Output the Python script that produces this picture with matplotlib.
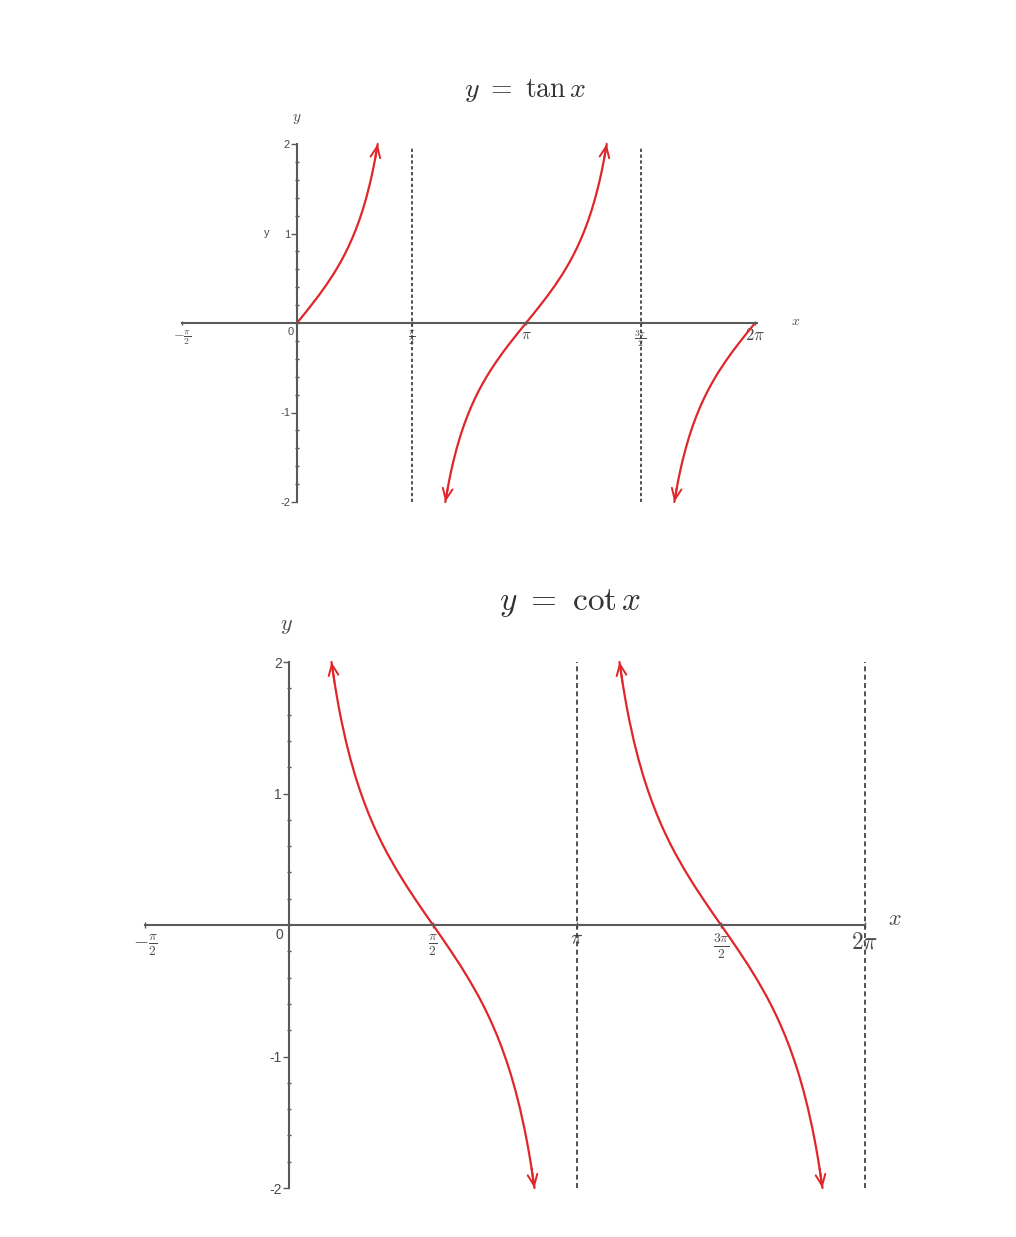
import numpy as np
import matplotlib
matplotlib.use("Agg")
from matplotlib import pyplot as plt

plt.rcParams['mathtext.fontset'] = 'cm'
plt.rcParams['font.family'] = ['Liberation Sans', 'DejaVu Sans']

W, H = 1016, 1237
red = '#e0262a'
gray = '#5a5a5a'
txt = '#4a4a4a'
pi = np.pi

# --- data (x in radians) ---
tan_x1 = [0.0, 0.1, 0.2, 0.3, 0.4, 0.5, 0.55, 0.6, 0.65, 0.7, 0.75, 0.8, 0.85, 0.9, 0.95,
          1.0, 1.025, 1.05, 1.075, 1.1071]
tan_y1 = [0.0, 0.100, 0.203, 0.309, 0.423, 0.546, 0.613, 0.684, 0.760, 0.842, 0.932, 1.030,
          1.138, 1.260, 1.398, 1.557, 1.646, 1.743, 1.849, 2.0]

tan_x2 = [2.0345, 2.0666, 2.0916, 2.1166, 2.1416, 2.1916, 2.2416, 2.2916, 2.3416, 2.3916,
          2.4416, 2.4916, 2.5416, 2.5916, 2.6416, 2.7416, 2.8416, 2.9416, 3.0416, 3.1416,
          3.2416, 3.3416, 3.4416, 3.5416, 3.6416, 3.6916, 3.7416, 3.7916, 3.8416, 3.8916,
          3.9416, 3.9916, 4.0416, 4.0916, 4.1416, 4.1666, 4.1916, 4.2166, 4.2487]
tan_y2 = [-2.0, -1.849, -1.743, -1.646, -1.557, -1.398, -1.260, -1.138, -1.030, -0.932,
          -0.842, -0.760, -0.684, -0.613, -0.546, -0.423, -0.309, -0.203, -0.100, 0.0,
          0.100, 0.203, 0.309, 0.423, 0.546, 0.613, 0.684, 0.760, 0.842, 0.932,
          1.030, 1.138, 1.260, 1.398, 1.557, 1.646, 1.743, 1.849, 2.0]

tan_x3 = [5.1761, 5.2082, 5.2332, 5.2582, 5.2832, 5.3332, 5.3832, 5.4332, 5.4832, 5.5332,
          5.5832, 5.6332, 5.6832, 5.7332, 5.7832, 5.8832, 5.9832, 6.0832, 6.1832, 6.2832]
tan_y3 = [-2.0, -1.849, -1.743, -1.646, -1.557, -1.398, -1.260, -1.138, -1.030, -0.932,
          -0.842, -0.760, -0.684, -0.613, -0.546, -0.423, -0.309, -0.203, -0.100, 0.0]

cot_x1 = [0.4637, 0.4958, 0.5208, 0.5458, 0.5708, 0.6208, 0.6708, 0.7208, 0.7708, 0.8208,
          0.8708, 0.9208, 0.9708, 1.0208, 1.0708, 1.1708, 1.2708, 1.3708, 1.4708, 1.5708,
          1.6708, 1.7708, 1.8708, 1.9708, 2.0708, 2.1208, 2.1708, 2.2208, 2.2708, 2.3208,
          2.3708, 2.4208, 2.4708, 2.5208, 2.5708, 2.5958, 2.6208, 2.6458, 2.6779]
cot_y1 = [2.0, 1.849, 1.743, 1.646, 1.557, 1.398, 1.260, 1.138, 1.030, 0.932,
          0.842, 0.760, 0.684, 0.613, 0.546, 0.423, 0.309, 0.203, 0.100, 0.0,
          -0.100, -0.203, -0.309, -0.423, -0.546, -0.613, -0.684, -0.760, -0.842, -0.932,
          -1.030, -1.138, -1.260, -1.398, -1.557, -1.646, -1.743, -1.849, -2.0]

cot_x2 = [3.6053, 3.6374, 3.6624, 3.6874, 3.7124, 3.7624, 3.8124, 3.8624, 3.9124, 3.9624,
          4.0124, 4.0624, 4.1124, 4.1624, 4.2124, 4.3124, 4.4124, 4.5124, 4.6124, 4.7124,
          4.8124, 4.9124, 5.0124, 5.1124, 5.2124, 5.2624, 5.3124, 5.3624, 5.4124, 5.4624,
          5.5124, 5.5624, 5.6124, 5.6624, 5.7124, 5.7374, 5.7624, 5.7874, 5.8195]
cot_y2 = cot_y1

tan_asym = [pi / 2, 3 * pi / 2]
cot_asym = [pi, 2 * pi]

xtick_pos = [-pi / 2, pi / 2, pi, 3 * pi / 2, 2 * pi]
xtick_lab = [r'$-\frac{\pi}{2}$', r'$\frac{\pi}{2}$', r'$\pi$', r'$\frac{3\pi}{2}$', r'$2\pi$']
ytick_pos = [-2, -1, 1, 2]
ytick_lab = ['-2', '-1', '1', '2']

fig = plt.figure(figsize=(W / 100, H / 100), dpi=100)


def make_axes(box, x0, sx, y0, sy):
    l, r, t, b = box
    ax = fig.add_axes([l / W, 1 - b / H, (r - l) / W, (b - t) / H])
    ax.set_xlim((l - x0) / sx, (r - x0) / sx)
    ax.set_ylim((y0 - b) / sy, (y0 - t) / sy)
    ax.patch.set_alpha(0)
    for s in ['top', 'right']:
        ax.spines[s].set_visible(False)
    ax.spines['left'].set_position(('data', 0))
    ax.spines['bottom'].set_position(('data', 0))
    ax.spines['left'].set_bounds(-2, 2)
    for s in ['left', 'bottom']:
        ax.spines[s].set_color(gray)
        ax.spines[s].set_linewidth(1.5)
    ax.set_yticks(ytick_pos)
    ax.set_yticks(np.arange(-2, 2.01, 0.2), minor=True)
    ax.tick_params(axis='y', which='major', direction='out', length=4, width=1, color=gray,
                   labelcolor=txt, pad=1)
    ax.tick_params(axis='y', which='minor', direction='inout', length=3, width=1, color=gray)
    ax.tick_params(axis='x', which='major', direction='inout', length=5, width=1, color=gray,
                   labelcolor=txt)
    return ax


def branch(ax, xs, ys, start_arrow, end_arrow):
    ax.plot(xs, ys, color=red, lw=1.6, solid_capstyle='round', solid_joinstyle='round')
    style = dict(arrowstyle='->,head_length=0.8,head_width=0.35', color=red, lw=1.4,
                 shrinkA=0, shrinkB=0)
    if end_arrow:
        ax.annotate('', xy=(xs[-1], ys[-1]), xytext=(xs[-2], ys[-2]), arrowprops=style)
    if start_arrow:
        ax.annotate('', xy=(xs[0], ys[0]), xytext=(xs[1], ys[1]), arrowprops=style)


# ---------------- y = tan x ----------------
ax1 = make_axes((140, 830, 120, 530), 297, 72.9, 323, 89.5)
ax1.spines['bottom'].set_bounds(-pi / 2, 2 * pi + 0.03)
ax1.set_yticklabels(ytick_lab, fontsize=8)
ax1.set_xticks(xtick_pos)
ax1.set_xticklabels(xtick_lab, fontsize=10)
ax1.tick_params(axis='x', pad=2, length=3)
ax1.get_xticklabels()[-1].set_fontsize(12)
ax1.get_xticklabels()[2].set_fontsize(11)
for a in tan_asym:
    ax1.plot([a, a], [-2, 1.95], color='#333333', lw=1.2, ls=(0, (2, 1.5)))
branch(ax1, tan_x1, tan_y1, False, True)
branch(ax1, tan_x2, tan_y2, True, True)
branch(ax1, tan_x3, tan_y3, True, False)
ax1.text(-0.05, -0.04, '0', fontsize=8, color=txt, ha='right', va='top')
ax1.text(-0.38, 1.0, 'y', fontsize=8, color=txt, ha='right', va='center')
ax1.text(0.0, 2.28, r'$y$', fontsize=11, color=txt, ha='center', va='center')
ax1.text(2 * pi + 0.55, 0.02, r'$x$', fontsize=10, color=txt, ha='center', va='center')
fig.text(525 / W, 1 - 90 / H, r'$y\ =\ \tan x$', fontsize=20, color='#333333',
         ha='center', va='center')

# ---------------- y = cot x ----------------
ax2 = make_axes((110, 920, 640, 1200), 289, 91.67, 925, 131.5)
ax2.spines['bottom'].set_bounds(-pi / 2, 2 * pi)
ax2.set_yticklabels(ytick_lab, fontsize=10)
ax2.set_xticks(xtick_pos)
ax2.set_xticklabels(xtick_lab, fontsize=14)
ax2.tick_params(axis='x', pad=2)
ax2.get_xticklabels()[-1].set_fontsize(17)
for a in cot_asym:
    ax2.plot([a, a], [-2, 2], color='#333333', lw=1.2, ls=(0, (3, 2)))
branch(ax2, cot_x1, cot_y1, True, True)
branch(ax2, cot_x2, cot_y2, True, True)
ax2.text(-0.06, -0.02, '0', fontsize=10, color=txt, ha='right', va='top')
ax2.text(-0.03, 2.28, r'$y$', fontsize=16, color=txt, ha='center', va='center')
ax2.text(2 * pi + 0.33, 0.04, r'$x$', fontsize=16, color=txt, ha='center', va='center')
fig.text(570 / W, 1 - 603 / H, r'$y\ =\ \cot x$', fontsize=24, color='#333333',
         ha='center', va='center')

fig.savefig('out.png', dpi=100, facecolor='white')
